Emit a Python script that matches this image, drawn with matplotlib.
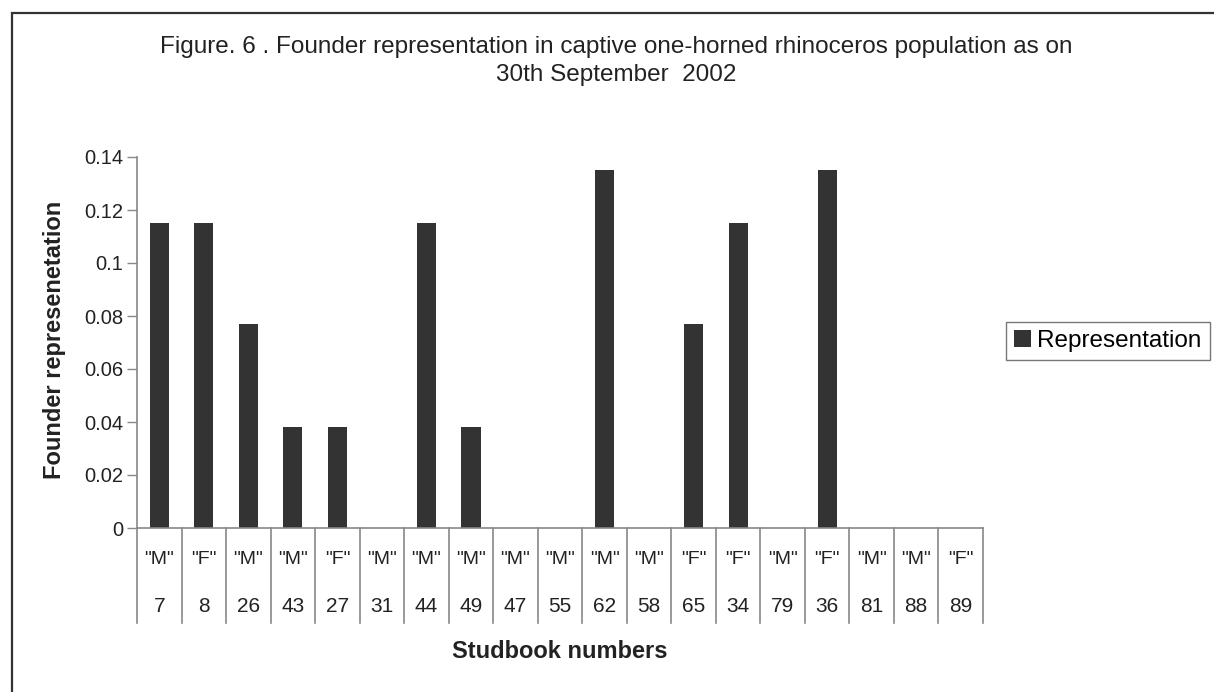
import matplotlib
matplotlib.use("Agg")
import matplotlib.pyplot as plt
from matplotlib.patches import Rectangle
import numpy as np

studbook = ["7", "8", "26", "43", "27", "31", "44", "49", "47", "55", "62", "58",
            "65", "34", "79", "36", "81", "88", "89"]
sex = ['"M"', '"F"', '"M"', '"M"', '"F"', '"M"', '"M"', '"M"', '"M"', '"M"', '"M"', '"M"',
       '"F"', '"F"', '"M"', '"F"', '"M"', '"M"', '"F"']
representation = [0.115, 0.115, 0.077, 0.038, 0.038, 0.0, 0.115, 0.038, 0.0, 0.0, 0.135, 0.0,
                  0.077, 0.115, 0.0, 0.135, 0.0, 0.0, 0.0]
yticks = [0, 0.02, 0.04, 0.06, 0.08, 0.1, 0.12, 0.14]
ytick_labels = ["0", "0.02", "0.04", "0.06", "0.08", "0.1", "0.12", "0.14"]

plt.rcParams['font.family'] = ['Liberation Sans', 'DejaVu Sans']
W, H = 1214, 692
fig = plt.figure(figsize=(W / 100, H / 100), dpi=100)
fig.patch.set_facecolor("white")

# outer chart frame
fig.patches.append(Rectangle((12 / W, -0.1), 1.2, 1 - 13 / H + 0.1, transform=fig.transFigure,
                             fill=False, edgecolor="#333333", linewidth=1.6))

n = len(studbook)
left, right = 137 / W, 983 / W
bottom, top = 1 - 528 / H, 1 - 157 / H
ax = fig.add_axes([left, bottom, right - left, top - bottom])
x = np.arange(n)
ax.bar(x, representation, width=0.43, color="#333333", label="Representation")
ax.set_xlim(-0.5, n - 0.5)
ax.set_ylim(0, 0.14)
ax.set_yticks(yticks)
ax.set_yticklabels(ytick_labels, fontsize=14.5, color="#222222")
ax.tick_params(axis="y", length=7, color="#888888", width=1, pad=3)
ax.set_xticks([])
for s in ["top", "right"]:
    ax.spines[s].set_visible(False)
for s in ["left", "bottom"]:
    ax.spines[s].set_color("#888888")
    ax.spines[s].set_linewidth(1.2)

axh = 528 - 157
trans = ax.get_xaxis_transform()
for b in np.arange(-0.5, n, 1.0):
    ax.plot([b, b], [0, -(623 - 528) / axh], transform=trans, color="#888888", lw=1.2,
            clip_on=False)
for i in range(n):
    ax.text(x[i], -(560 - 528) / axh, sex[i], transform=trans, ha="center", va="center",
            fontsize=14, color="#222222")
    ax.text(x[i], -(607 - 528) / axh, studbook[i], transform=trans, ha="center", va="center",
            fontsize=15, color="#222222")

ax.text(0.5, -(652 - 528) / axh, "Studbook numbers", transform=ax.transAxes, ha="center",
        va="center", fontsize=17, fontweight="bold", color="#222222")
fig.text(54 / W, 1 - 340 / H, "Founder represenetation", rotation=90, ha="center",
         va="center", fontsize=17, fontweight="bold", color="#222222")

fig.text(616 / W, 1 - 53 / H,
         "Figure. 6 . Founder representation in captive one-horned rhinoceros population as on",
         ha="center", va="baseline", fontsize=17.5, color="#222222")
fig.text(616 / W, 1 - 81 / H, "30th September  2002",
         ha="center", va="baseline", fontsize=17.5, color="#222222")

leg = fig.legend(loc="upper left", bbox_to_anchor=(1006 / W, 1 - 322 / H),
                 fontsize=17.5, frameon=True, fancybox=False, handlelength=0.7,
                 handleheight=0.7, handletextpad=0.25, borderpad=0.33,
                 borderaxespad=0)
leg.get_frame().set_edgecolor("#555555")
leg.get_frame().set_linewidth(1.0)

fig.savefig("out.png", dpi=100)
